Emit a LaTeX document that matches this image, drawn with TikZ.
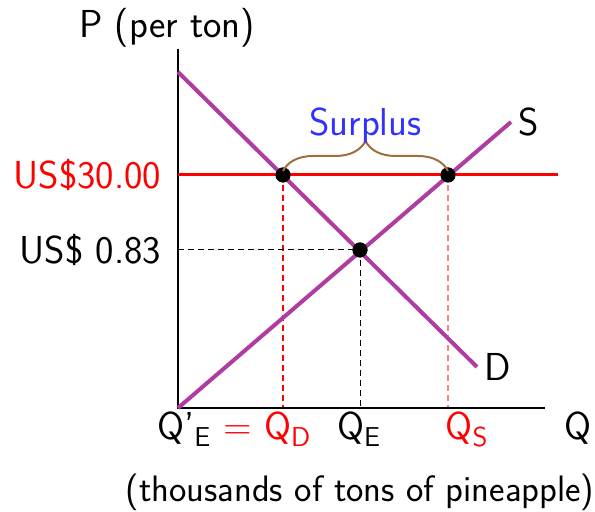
\documentclass[tikz,border=0pt]{standalone}
\usepackage{tikz}
\usetikzlibrary{decorations.pathreplacing, positioning}
\renewcommand{\familydefault}{\sfdefault}
\definecolor{curvecol}{RGB}{175,60,160}
\definecolor{bracecol}{RGB}{160,110,60}
\definecolor{surpluscol}{RGB}{50,50,255}
\definecolor{lightred}{RGB}{255,130,130}
\tikzset{
  curve/.style={draw=curvecol, line width=2pt},
  dot/.style={circle, fill=black, inner sep=0pt, minimum size=7.5pt},
  guide/.style={dash pattern=on 3pt off 2pt, line width=0.5pt},
}

\begin{document}
\begin{tikzpicture}[x=0.5pt, y=0.5pt, font=\fontsize{19.5}{23}\selectfont\sffamily]
        \useasboundingbox (0,0) rectangle (595,512);
        \coordinate (o) at (178,104);
        \coordinate (ytop) at (178,463);
        \coordinate (xend) at (545,104);
        \coordinate (dtop) at (178,440);
        \coordinate (dend) at (477,145);
        \coordinate (send) at (511,390);
        \coordinate (pleft) at (178,337);
        \coordinate (pright) at (558,337);
        \coordinate (eleft) at (178,262);
        % points on the curves
        \node (qd) [dot] at (283,337) {};
        \node (qs) [dot] at (448,337) {};
        \node (eq) [dot] at (360,262) {};
        \draw[guide, draw=red, line width=0.7pt] (qd.center) -- (qd |- o);
        \draw[guide, draw=lightred, line width=0.7pt] (qs.center) -- (qs |- o);
        \draw[guide] (eleft) -- (eq.center);
        \draw[guide] (eq.center) -- (eq |- o);
        \draw[line width=0.75pt] (ytop) -- (o) -- (xend);
        \draw[red, line width=1.5pt] (pleft) -- (pright);
        \draw[curve] (dtop) -- (dend);
        \draw[curve] (o) -- (send);
        \node[dot] at (qd) {};
        \node[dot] at (qs) {};
        \node[dot] at (eq) {};
        \draw[bracecol, line width=1pt, decorate, decoration={brace, amplitude=15pt}]
          ([yshift=2pt]qd.center) -- ([yshift=2pt]qs.center)
          node (surplus) [midway, above=10pt, surpluscol] {Surplus};
        \node (slabel) [right=0pt of send] {S};
        \node (dlabel) [right=0pt of dend] {D};
        \node (ptitle) at (167,484) {P (per ton)};
        \node (price) [left=5pt of pleft, red] {US\$30.00};
        \node (eprice) [left=5pt of eleft] {US\$ 0.83};
        \node (qdlabel) [anchor=base west] at (150,72) {Q'\textsubscript{E} {\color{red}= Q\textsubscript{D}}};
        \node (qelabel) [anchor=base] at (359,72) {Q\textsubscript{E}};
        \node (qslabel) [anchor=base, red] at (467,72) {Q\textsubscript{S}};
        \node (qlabel) [anchor=base] at (578,72) {Q};
        \node (unit) [font=\fontsize{18.4}{22}\selectfont\sffamily] at (360,20) {(thousands of tons of pineapple)};
      \end{tikzpicture}
\end{document}
